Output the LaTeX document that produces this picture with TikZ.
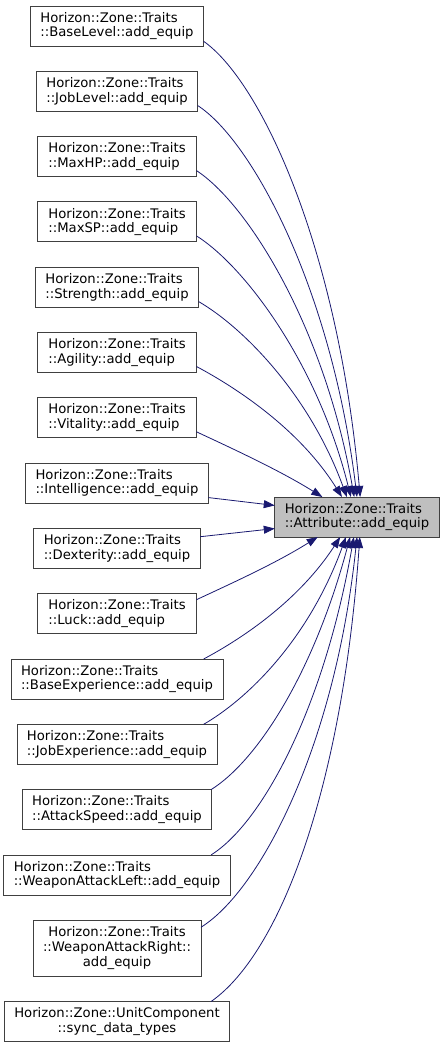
\documentclass[tikz,border=0pt]{standalone}
\usepackage{fontspec}
\setmainfont{DejaVu Sans}
\usetikzlibrary{calc,positioning,arrows.meta}
\definecolor{edgeblue}{RGB}{25,25,112}
\definecolor{boxgray}{RGB}{64,64,64}
\definecolor{hitgray}{RGB}{191,191,191}
\tikzset{
    func/.style={
    rectangle,draw=boxgray,fill=white,align=left,line width=0.8pt,outer sep=0pt,
    inner xsep=10pt,inner ysep=0pt,minimum height=40pt,minimum width=159pt,
    font=\fontsize{13.2}{14.7}\selectfont
    },
    focus/.style={
    func,fill=hitgray
    },
  call/.style={draw=edgeblue, line width=0.8pt, -{Triangle[length=11pt,width=8pt]}},
}

\begin{document}
\begin{tikzpicture}[x=1pt,y=1pt,node distance=25.3pt]
\useasboundingbox (0,0) rectangle (444,-1048);

  \node[func] (baselevel) at (117,-26) {Horizon::Zone::Traits\\::BaseLevel::add\_equip};
  \node[func,below=of baselevel] (joblevel) {Horizon::Zone::Traits\\::JobLevel::add\_equip};
  \node[func,below=of joblevel] (maxhp) {Horizon::Zone::Traits\\::MaxHP::add\_equip};
  \node[func,below=of maxhp] (maxsp) {Horizon::Zone::Traits\\::MaxSP::add\_equip};
  \node[func,below=of maxsp] (strength) {Horizon::Zone::Traits\\::Strength::add\_equip};
  \node[func,below=of strength] (agility) {Horizon::Zone::Traits\\::Agility::add\_equip};
  \node[func,below=of agility] (vitality) {Horizon::Zone::Traits\\::Vitality::add\_equip};
  \node[func,below=of vitality] (intelligence) {Horizon::Zone::Traits\\::Intelligence::add\_equip};
  \node[func,below=of intelligence] (dexterity) {Horizon::Zone::Traits\\::Dexterity::add\_equip};
  \node[func,below=of dexterity] (luck) {Horizon::Zone::Traits\\::Luck::add\_equip};
  \node[func,below=of luck] (baseexp) {Horizon::Zone::Traits\\::BaseExperience::add\_equip};
  \node[func,below=of baseexp] (jobexp) {Horizon::Zone::Traits\\::JobExperience::add\_equip};
  \node[func,below=of jobexp] (aspd) {Horizon::Zone::Traits\\::AttackSpeed::add\_equip};
  \node[func,below=of aspd] (watkleft) {Horizon::Zone::Traits\\::WeaponAttackLeft::add\_equip};
  \node[func,align=center,minimum height=56pt,below=of watkleft] (watkright) {Horizon::Zone::Traits\\::WeaponAttackRight::\\add\_equip};
  \node[func,align=center,below=of watkright] (syncdata) {Horizon::Zone::UnitComponent\\::sync\_data\_types};

  \node[focus] (attr) at (357,-517) {Horizon::Zone::Traits\\::Attribute::add\_equip};

  % callers above the attribute node
  \path[call] (baselevel.350) .. controls +(-35:70) and +(95:250) .. (attr.81);
  \path[call] (joblevel.350) .. controls +(-33:65) and +(97:210) .. (attr.90);
  \path[call] (maxhp.350) .. controls +(-33:60) and +(100:175) .. (attr.98);
  \path[call] (maxsp.350) .. controls +(-32:55) and +(104:140) .. (attr.107);
  \path[call] (strength.350) .. controls +(-30:50) and +(110:110) .. (attr.117);
  \path[call] (agility.350) .. controls +(-28:45) and +(122:80) .. (attr.127);
  \path[call] (vitality.350) .. controls +(-25:40) and +(148:50) .. (attr.150);
  \path[call] (intelligence.351) -- (attr.172);
  \path[call] (dexterity.8) -- (attr.188);
  % callers below
  \path[call] (luck.10) .. controls +(25:40) and +(212:50) .. (attr.207);
  \path[call] (baseexp.13) .. controls +(28:45) and +(237:75) .. (attr.230);
  \path[call] (jobexp.13) .. controls +(30:50) and +(250:110) .. (attr.241);
  \path[call] (aspd.12) .. controls +(32:55) and +(255:140) .. (attr.251);
  \path[call] (watkleft.12) .. controls +(32:60) and +(260:175) .. (attr.261);
  \path[call] (watkright.14) .. controls +(32:70) and +(264:210) .. (attr.270);
  \path[call] (syncdata.12) .. controls +(35:85) and +(266:250) .. (attr.278);
\end{tikzpicture}
\end{document}
